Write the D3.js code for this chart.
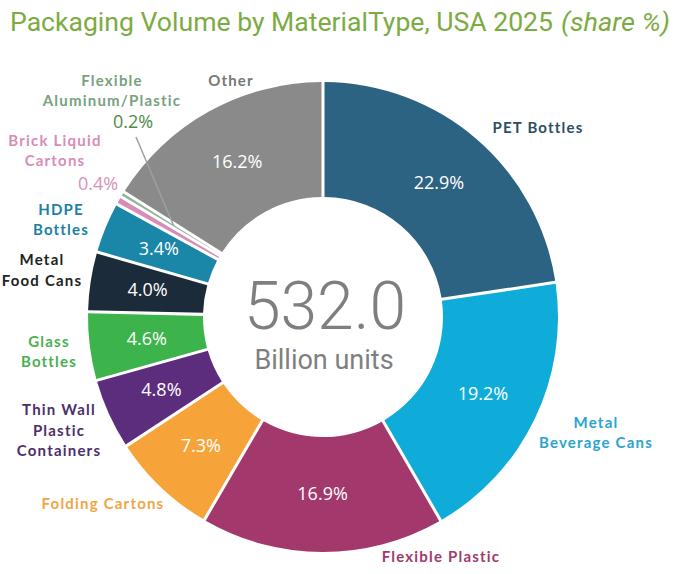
<!DOCTYPE html>
<html>
<head>
  <meta charset="utf-8">
  <title>Packaging Volume by Material Type</title>
  <script src="https://d3js.org/d3.v7.min.js"></script>
  <style>
    body { margin: 0; background: #fff; }
    .lbl { font-family: Lato, "Open Sans", sans-serif; font-weight: 700; font-size: 15px; letter-spacing: 1.2px; }
    .pct { font-family: "Open Sans", sans-serif; font-size: 18px; }
  </style>
</head>
<body>
<svg id="chart" width="687" height="574"></svg>
<script>
// data
const materials = ["PET Bottles", "Metal Beverage Cans", "Flexible Plastic", "Folding Cartons",
  "Thin Wall Plastic Containers", "Glass Bottles", "Metal Food Cans", "HDPE Bottles",
  "Brick Liquid Cartons", "Flexible Aluminum/Plastic", "Other"];
const shares = [22.9, 19.2, 16.9, 7.3, 4.8, 4.6, 4.0, 3.4, 0.4, 0.2, 16.2];
const labelLines = [["PET Bottles"], ["Metal", "Beverage Cans"], ["Flexible Plastic"], ["Folding Cartons"],
  ["Thin Wall", "Plastic", "Containers"], ["Glass", "Bottles"], ["Metal", "Food Cans"], ["HDPE", "Bottles"],
  ["Brick Liquid", "Cartons"], ["Flexible", "Aluminum/Plastic"], ["Other"]];
const totalUnits = 532.0;

const sliceColors = ["#2d6382", "#10acd9", "#a3386c", "#f6a43a", "#5d2d7d", "#3cb44b", "#1c2b39", "#1a86a8", "#d88cb8", "#8fb596", "#8a8a8a"];
const textColors = ["#2c4e64", "#2aa4cf", "#a03a6c", "#f0a543", "#4c2f6a", "#4caf50", "#222222", "#1c7fa3", "#d68db7", "#76a27e", "#777777"];

// hand-placed label spots (layout): [x, first baseline, line gap]
const labelAt = [[538, 133, 20], [596, 428, 20], [441, 562, 20], [103, 509, 20],
  [59, 415, 20.5], [49, 347, 20], [42, 265, 21], [61, 215, 20], [55, 146, 20], [112, 86, 20], [231, 86, 20]];
const smallPctAt = { 8: [98, 190, "#d98fbb"], 9: [133, 128, "#4e8b48"] };

const svg = d3.select("#chart");
const cx = 323, cy = 317, rOut = 235, rIn = 120;

svg.append("text")
  .attr("x", 10).attr("y", 31)
  .attr("textLength", 543).attr("lengthAdjust", "spacingAndGlyphs")
  .style("font-family", "Roboto, sans-serif").style("font-size", "25px").style("fill", "#7cab42")
  .text("Packaging Volume by MaterialType, USA 2025");
svg.append("text")
  .attr("x", 561).attr("y", 31)
  .attr("textLength", 109).attr("lengthAdjust", "spacingAndGlyphs")
  .style("font-family", "Roboto, sans-serif").style("font-size", "25px").style("font-style", "italic").style("fill", "#7cab42")
  .text("(share %)");

const pie = d3.pie().sort(null).value(d => d).padAngle(0.0115);
const arcs = pie(shares);
const arc = d3.arc().innerRadius(rIn).outerRadius(rOut);

const g = svg.append("g").attr("transform", `translate(${cx},${cy})`);

g.selectAll("path.slice")
  .data(arcs)
  .join("path")
  .attr("class", "slice")
  .attr("d", arc)
  .attr("fill", (d, i) => sliceColors[i]);

// percentages inside slices
g.selectAll("text.pct-in")
  .data(arcs.filter((d, i) => !(i in smallPctAt)))
  .join("text")
  .attr("class", "pct")
  .attr("text-anchor", "middle")
  .attr("x", d => arc.centroid(d)[0])
  .attr("y", d => arc.centroid(d)[1] + 6)
  .style("fill", "#fff")
  .text(d => d3.format(".1f")(d.value) + "%");

// leader line for the thinnest slice
const thin = arcs[9];
const pt = d3.arc().innerRadius(175).outerRadius(175).centroid(thin);
svg.append("line")
  .attr("x1", 136).attr("y1", 137)
  .attr("x2", cx + pt[0]).attr("y2", cy + pt[1])
  .style("stroke", "#a0a0a0").style("stroke-width", 1.5);

// outside labels
materials.forEach((m, i) => {
  const [x, y, gap] = labelAt[i];
  const t = svg.append("text").attr("class", "lbl").attr("text-anchor", "middle").style("fill", textColors[i]);
  labelLines[i].forEach((line, k) => {
    t.append("tspan").attr("x", x).attr("y", y + k * gap).text(line);
  });
  if (i in smallPctAt) {
    const [px, py, col] = smallPctAt[i];
    svg.append("text").attr("class", "pct").attr("text-anchor", "middle")
      .attr("x", px).attr("y", py).style("fill", col)
      .text(d3.format(".1f")(shares[i]) + "%");
  }
});

// center total
svg.append("text")
  .attr("x", 325).attr("y", 329).attr("text-anchor", "middle")
  .style("font-family", "Roboto, sans-serif").style("font-weight", 300).style("font-size", "66px").style("fill", "#7f7f7f")
  .text(d3.format(".1f")(totalUnits));
svg.append("text")
  .attr("x", 324).attr("y", 369).attr("text-anchor", "middle")
  .style("font-family", "Roboto, sans-serif").style("font-size", "27px").style("fill", "#7f7f7f")
  .text("Billion units");
</script>
</body>
</html>
